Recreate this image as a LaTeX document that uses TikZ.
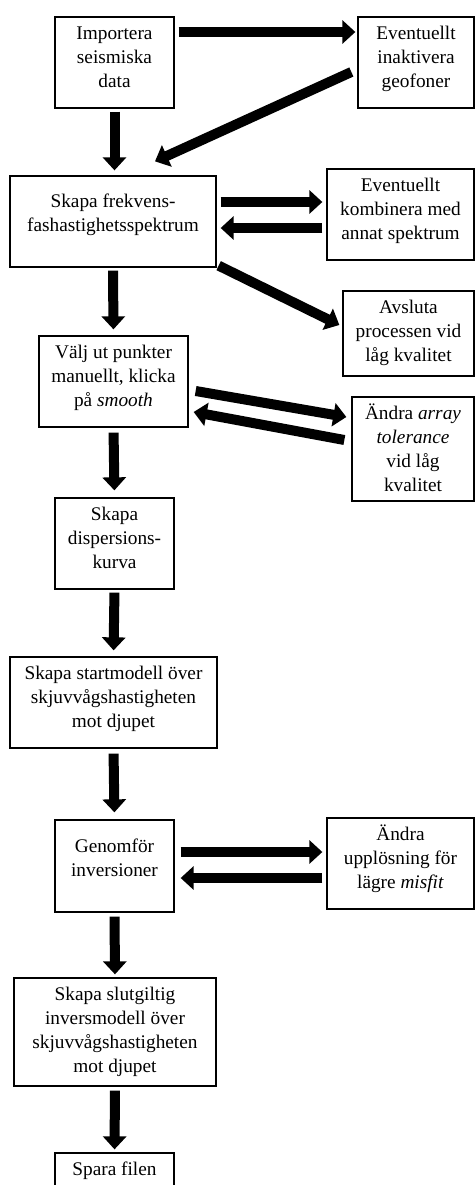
\documentclass[tikz,border=0pt]{standalone}
\usepackage{fontspec}
\setmainfont{Liberation Serif}
\usetikzlibrary{calc}
\usetikzlibrary{arrows.meta}

\newcommand{\boxtxt}[4][0pt]{\parbox[c][\dimexpr#3-12pt][t]{\dimexpr#2-12pt}{\centering\vspace*{#1}\strut #4}}

\tikzset{
  stepbox/.style={draw, line width=1.3pt, inner sep=6pt},
  flow/.style={line width=10pt, -{Triangle[width=23pt,length=13pt]}},
}

\begin{document}
\begin{tikzpicture}[x=1pt,y=-1pt,font=\fontsize{19.3}{24}\selectfont]
\useasboundingbox (0,0) rectangle (475,1185);

\node[stepbox] (imp) at (114.5,62.5) {\boxtxt{119pt}{91pt}{Importera\\seismiska\\data}};
\node[stepbox] (geo) at (416,62.5) {\boxtxt{116pt}{91pt}{Eventuellt\\inaktivera\\geofoner}};
\node[stepbox] (spek) at (113,221.5) {\boxtxt[9pt]{206pt}{91pt}{Skapa frekvens-\\fashastighetsspektrum}};
\node[stepbox] (komb) at (400.5,214.5) {\boxtxt{147pt}{91pt}{Eventuellt\\kombinera med\\annat spektrum}};
\node[stepbox] (avsl) at (408.5,333.5) {\boxtxt{131pt}{85pt}{Avsluta\\processen vid\\låg kvalitet}};
\node[stepbox] (valj) at (113.5,381.5) {\boxtxt{149pt}{91pt}{Välj ut punkter\\manuellt, klicka\\på \textit{smooth}}};
\node[stepbox] (array) at (413,449) {\boxtxt{122pt}{104pt}{Ändra \textit{array}\\\textit{tolerance}\\vid låg\\kvalitet}};
\node[stepbox] (disp) at (114.5,543.5) {\boxtxt{119pt}{91pt}{Skapa\\dispersions-\\kurva}};
\node[stepbox] (start) at (113.5,702.5) {\boxtxt{207pt}{91pt}{Skapa startmodell över\\skjuvvågshastigheten\\mot djupet}};
\node[stepbox] (genom) at (114.5,866) {\boxtxt[10pt]{119pt}{92pt}{Genomför\\inversioner}};
\node[stepbox] (uppl) at (400.5,863.5) {\boxtxt{147pt}{91pt}{Ändra\\upplösning för\\lägre \textit{misfit}}};
\node[stepbox] (slut) at (115,1032) {\boxtxt{202pt}{108pt}{Skapa slutgiltig\\inversmodell över\\skjuvvågshastigheten\\mot djupet}};
\node[stepbox] (spara) at (114.5,1198.5) {\boxtxt{119pt}{91pt}{Spara filen}};

\draw[flow, shorten <=4pt, shorten >=2pt] (imp.east |- 0,32) -- (geo.west |- 0,32);
\draw[flow] ($(geo.west)+(-6,9.5)$) -- ($(spek.north)+(42,-14)$);
\draw[flow, shorten <=3pt, shorten >=5pt] (imp.south) -- (imp.south |- spek.north);

\draw[flow, shorten <=4pt, shorten >=4pt] (spek.east |- 0,202) -- (komb.west |- 0,202);
\draw[flow, shorten <=4pt, shorten >=4pt] (komb.west |- 0,228) -- (spek.east |- 0,228);
\draw[flow] ($(spek.south east)+(2,-2)$) -- ($(avsl.west)+(-3,-8.5)$);
\draw[flow, shorten <=3pt, shorten >=6pt] (spek.south) -- (valj.north);

\draw[flow] ($(valj.east)+(7,9.5)$) -- ($(array.west)+(-5,-32)$);
\draw[flow] ($(array.west)+(-7,-9)$) -- ($(valj.east)+(5,30.5)$);
\draw[flow, shorten <=5pt, shorten >=7pt] (valj.south) -- (disp.north);

\draw[flow, shorten <=3pt, shorten >=6pt] (disp.south) -- (start.north);
\draw[flow, shorten <=5pt, shorten >=7pt] (start.south) -- (genom.north);

\draw[flow, shorten <=6pt, shorten >=4pt] (genom.east |- 0,852) -- (uppl.west |- 0,852);
\draw[flow, shorten <=4pt, shorten >=6pt] (uppl.west |- 0,878) -- (genom.east |- 0,878);
\draw[flow, shorten <=4pt, shorten >=3pt] (genom.south) -- (slut.north);
\draw[flow, shorten <=4pt, shorten >=3pt] (slut.south) -- (spara.north);

\end{tikzpicture}
\end{document}
